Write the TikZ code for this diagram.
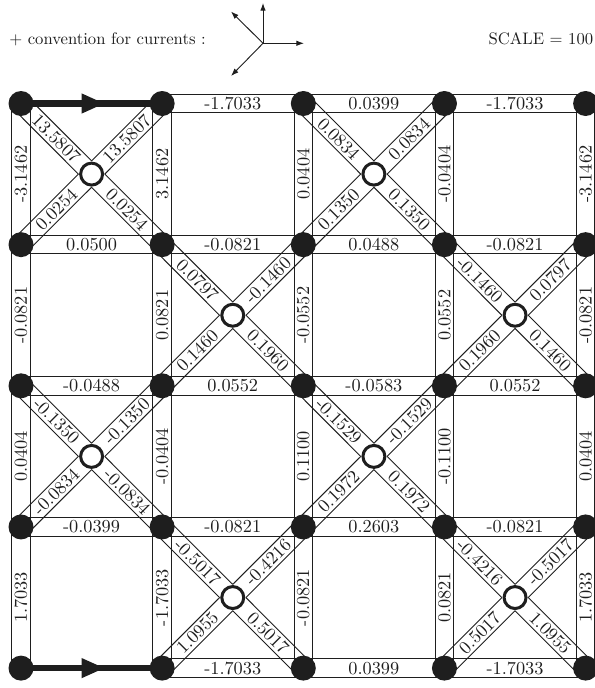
\documentclass[tikz,border=0pt]{standalone}
\usetikzlibrary{arrows.meta,decorations.markings,calc}
\pgfdeclarelayer{bandlayer}
\pgfsetlayers{bandlayer,main}
\definecolor{ink}{HTML}{1E1E1E}
\newcommand\hw{5.08pt}
\newcommand\vx{7.19pt}
\tikzset{
  jn/.style={circle,fill=ink,draw=none,inner sep=0pt,minimum size=13.66pt},
  ring/.style={circle,fill=white,draw=ink,line width=1.65pt,inner sep=0pt,minimum size=12pt},
  edge/.style={line width=0.5pt,draw=ink},
  lab/.style={inner sep=0pt,text=ink},
  head/.style={text=ink,anchor=base west,inner sep=0pt,scale=0.91},
  conv/.style={draw=ink,line width=0.5pt,-{Latex[length=4.2pt,width=3pt]}},
  feed/.style={draw=ink,line width=3.3pt,postaction={decorate},
    decoration={markings,mark=at position 0.595 with {\arrow[ink]{Triangle[length=12.8pt,width=10pt]}}}}
}
% straight band between two junctions
\newcommand\band[4]{%
  \begin{pgfonlayer}{bandlayer}
  \draw[edge] ($(#1.center)!\hw!90:(#2.center)$)--($(#2.center)!\hw!-90:(#1.center)$);
  \draw[edge] ($(#1.center)!\hw!-90:(#2.center)$)--($(#2.center)!\hw!90:(#1.center)$);
  \end{pgfonlayer}%
  \path (#1.center)--(#2.center) node[midway,lab,rotate=#3] (l#1#2) {#4};}
% diagonal band from a junction (#1) to a ring (#2), stopping at the crossing
\newcommand\dband[4]{%
  \begin{pgfonlayer}{bandlayer}
  \draw[edge] ($(#1.center)!\hw!90:(#2.center)$)--($(#2.center)!\vx!-45:(#1.center)$);
  \draw[edge] ($(#1.center)!\hw!-90:(#2.center)$)--($(#2.center)!\vx!45:(#1.center)$);
  \end{pgfonlayer}%
  \path (#1.center)--(#2.center) node[midway,lab,rotate=#3] (l#1#2) {#4};}
\newcommand\cell[6]{%
  \pgfmathtruncatemacro\ca{#1}\pgfmathtruncatemacro\cb{#1+1}
  \pgfmathtruncatemacro\ra{#2}\pgfmathtruncatemacro\rb{#2+1}
  \dband{n\ca\ra}{c#1#2}{-45}{#3}
  \dband{n\cb\ra}{c#1#2}{45}{#4}
  \dband{n\ca\rb}{c#1#2}{45}{#5}
  \dband{n\cb\rb}{c#1#2}{-45}{#6}}
\begin{document}
\begin{tikzpicture}[x=0.5464pt,y=-0.5464pt]
\useasboundingbox (0,0) rectangle (595,688);
% junctions
\foreach \c in {0,...,4}{\foreach \r in {0,...,4}{
  \node[jn] (n\c\r) at ({21+141.15*\c},{103.5+141.15*\r}) {};}}
% rings
\foreach \c/\r in {0/0,2/0,1/1,3/1,0/2,2/2,1/3,3/3}{
  \node[ring] (c\c\r) at ({91.6+141.15*\c},{174.1+141.15*\r}) {};}
% header
\node[head] (convtext) at (9,44.3) {+ convention for currents :};
\node[head] (scaletext) at (488.3,44.3) {SCALE = 100};
\coordinate (o) at (263,43.3);
\coordinate (tu) at (263,3);
\coordinate (tr) at (304,43.3);
\coordinate (tl) at (231,11.5);
\coordinate (bl) at (231,76);
\draw[conv] (o)--(tu);
\draw[conv] (o)--(tr);
\draw[conv] (o)--(tl);
\draw[conv] (o)--(bl);
% horizontal bands
\band{n10}{n20}{0}{-1.7033}
\band{n20}{n30}{0}{0.0399}
\band{n30}{n40}{0}{-1.7033}
\band{n01}{n11}{0}{0.0500}
\band{n11}{n21}{0}{-0.0821}
\band{n21}{n31}{0}{0.0488}
\band{n31}{n41}{0}{-0.0821}
\band{n02}{n12}{0}{-0.0488}
\band{n12}{n22}{0}{0.0552}
\band{n22}{n32}{0}{-0.0583}
\band{n32}{n42}{0}{0.0552}
\band{n03}{n13}{0}{-0.0399}
\band{n13}{n23}{0}{-0.0821}
\band{n23}{n33}{0}{0.2603}
\band{n33}{n43}{0}{-0.0821}
\band{n14}{n24}{0}{-1.7033}
\band{n24}{n34}{0}{0.0399}
\band{n34}{n44}{0}{-1.7033}
% vertical bands
\band{n00}{n01}{90}{-3.1462}
\band{n10}{n11}{90}{3.1462}
\band{n20}{n21}{90}{0.0404}
\band{n30}{n31}{90}{-0.0404}
\band{n40}{n41}{90}{-3.1462}
\band{n01}{n02}{90}{-0.0821}
\band{n11}{n12}{90}{0.0821}
\band{n21}{n22}{90}{-0.0552}
\band{n31}{n32}{90}{0.0552}
\band{n41}{n42}{90}{-0.0821}
\band{n02}{n03}{90}{0.0404}
\band{n12}{n13}{90}{-0.0404}
\band{n22}{n23}{90}{0.1100}
\band{n32}{n33}{90}{-0.1100}
\band{n42}{n43}{90}{0.0404}
\band{n03}{n04}{90}{1.7033}
\band{n13}{n14}{90}{-1.7033}
\band{n23}{n24}{90}{-0.0821}
\band{n33}{n34}{90}{0.0821}
\band{n43}{n44}{90}{1.7033}
% diagonal bands
\cell{0}{0}{13.5807}{13.5807}{0.0254}{0.0254}
\cell{2}{0}{0.0834}{0.0834}{0.1350}{0.1350}
\cell{1}{1}{0.0797}{-0.1460}{0.1460}{0.1960}
\cell{3}{1}{-0.1460}{0.0797}{0.1960}{0.1460}
\cell{0}{2}{-0.1350}{-0.1350}{-0.0834}{-0.0834}
\cell{2}{2}{-0.1529}{-0.1529}{0.1972}{0.1972}
\cell{1}{3}{-0.5017}{-0.4216}{1.0955}{0.5017}
\cell{3}{3}{-0.4216}{-0.5017}{0.5017}{1.0955}
% feed lines
\begin{pgfonlayer}{bandlayer}
\draw[feed] (n00.center)--(n10.center);
\draw[feed] (n04.center)--(n14.center);
\end{pgfonlayer}
\end{tikzpicture}
\end{document}
